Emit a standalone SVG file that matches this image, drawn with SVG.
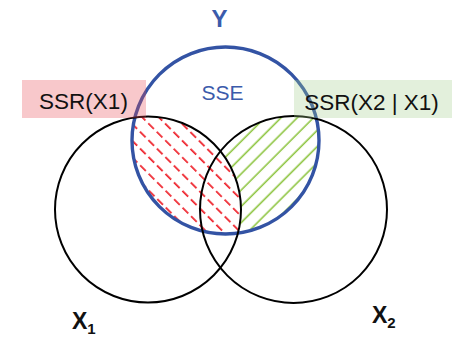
<svg xmlns="http://www.w3.org/2000/svg" width="452" height="339" viewBox="0 0 452 339">
  <style>
    .lbl { font-family: "Liberation Sans", Arial, sans-serif; fill: #111; }
    .blue { fill: #3b5bab; }
    .circ { fill: none; stroke: #000; stroke-width: 2; }
    .ycirc { fill: none; stroke: #3353a4; stroke-width: 3.4; }
  </style>
  <defs>
    <pattern id="redHatch" patternUnits="userSpaceOnUse" width="12" height="11.8" patternTransform="rotate(45)">
      <line x1="0" y1="6" x2="8" y2="6" stroke="#ee1c25" stroke-width="1.7"/>
    </pattern>
    <pattern id="greenHatch" patternUnits="userSpaceOnUse" width="10" height="11.5" patternTransform="rotate(-45)">
      <line x1="-1" y1="6" x2="11" y2="6" stroke="#8cc43f" stroke-width="1.6"/>
    </pattern>
    <clipPath id="clipY"><circle cx="225.5" cy="140.5" r="93.5"/></clipPath>
    <clipPath id="clipX1"><circle cx="148" cy="209.5" r="93"/></clipPath>
    <mask id="maskX2notX1" maskUnits="userSpaceOnUse" x="0" y="0" width="452" height="339">
      <circle cx="293.5" cy="209.5" r="93.5" fill="#fff"/>
      <circle cx="148" cy="209.5" r="93" fill="#000"/>
    </mask>
  </defs>

  <g id="hatching">
    <g clip-path="url(#clipY)">
      <rect x="0" y="0" width="452" height="339" fill="url(#redHatch)" clip-path="url(#clipX1)"/>
    </g>
    <g clip-path="url(#clipY)">
      <rect x="0" y="0" width="452" height="339" fill="url(#greenHatch)" mask="url(#maskX2notX1)"/>
    </g>
  </g>

  <g id="Y">
    <circle class="ycirc" cx="225.5" cy="140.5" r="93.5"/>
    <text class="lbl blue" x="219.5" y="27" font-size="24" font-weight="bold" text-anchor="middle">Y</text>
    <text class="lbl blue" x="222.5" y="100" font-size="21" text-anchor="middle">SSE</text>
  </g>

  <g id="X1">
    <circle class="circ" cx="148" cy="209.5" r="93"/>
    <text class="lbl" x="72" y="329" font-size="23" font-weight="bold">X<tspan font-size="15" dy="5">1</tspan></text>
  </g>

  <g id="X2">
    <circle class="circ" cx="293.5" cy="209.5" r="93.5"/>
    <text class="lbl" x="372" y="323" font-size="23" font-weight="bold">X<tspan font-size="15" dy="5">2</tspan></text>
  </g>

  <g id="SSR_X1">
    <rect x="22" y="80" width="124" height="38" fill="rgb(232,72,82)" fill-opacity="0.3"/>
    <text class="lbl" x="83.5" y="109" font-size="22.5" text-anchor="middle">SSR(X1)</text>
  </g>

  <g id="SSR_X2_X1">
    <rect x="294" y="80" width="158" height="38" fill="rgb(162,205,138)" fill-opacity="0.3"/>
    <text class="lbl" x="371.5" y="110" font-size="22.5" text-anchor="middle">SSR(X2 | X1)</text>
  </g>

  <g id="connectors"></g>
</svg>
